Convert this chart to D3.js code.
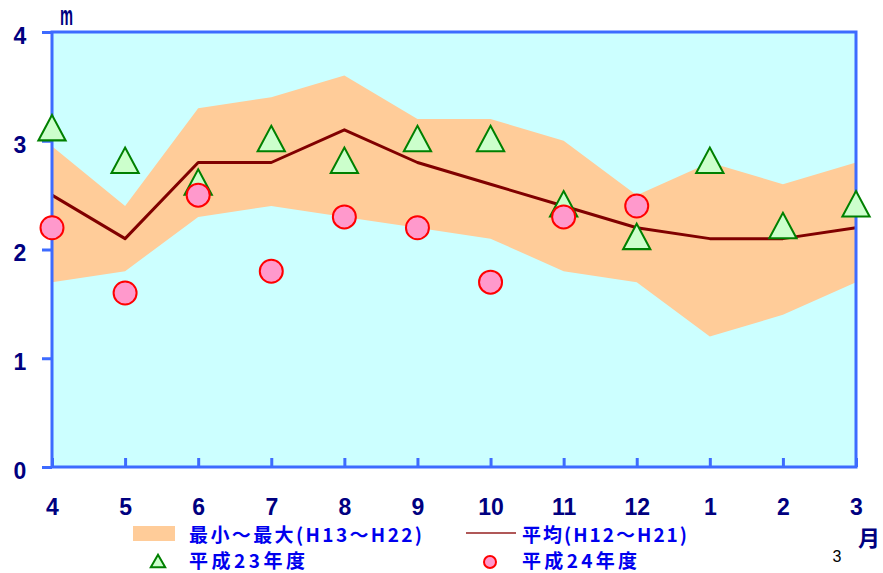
<!DOCTYPE html>
<html>
<head>
<meta charset="utf-8">
<script src="https://cdn.jsdelivr.net/npm/d3@7"></script>
<style>
  html, body { margin: 0; padding: 0; background: #ffffff; }
  svg { display: block; }
</style>
</head>
<body>
<script>
// Monthly values (m), April through March
const months = ["4", "5", "6", "7", "8", "9", "10", "11", "12", "1", "2", "3"];
const maxH13H22 = [2.95, 2.4, 3.3, 3.4, 3.6, 3.2, 3.2, 3.0, 2.5, 2.8, 2.6, 2.8];
const minH13H22 = [1.7, 1.8, 2.3, 2.4, 2.3, 2.2, 2.1, 1.8, 1.7, 1.2, 1.4, 1.7];
const avgH12H21 = [2.5, 2.1, 2.8, 2.8, 3.1, 2.8, 2.6, 2.4, 2.2, 2.1, 2.1, 2.2];
const fy23 = [3.1, 2.8, 2.6, 3.0, 2.8, 3.0, 3.0, 2.4, 2.1, 2.8, 2.2, 2.4];
const fy24 = [2.2, 1.6, 2.5, 1.8, 2.3, 2.2, 1.7, 2.3, 2.4, null, null, null];
const yTicks = [0, 1, 2, 3, 4];

const legendLabels = ["最小～最大(H13～H22)", "平均(H12～H21)", "平成23年度", "平成24年度"];

const W = 883, H = 573;
const plot = { left: 52, right: 856, top: 32, bottom: 467 };

const svg = d3.select("body").append("svg").attr("width", W).attr("height", H);

const x = d3.scalePoint().domain(months).range([plot.left, plot.right]);
const y = d3.scaleLinear().domain([0, 4]).range([plot.bottom, plot.top]);

const navy = "#000080";
const axisBlue = "#3d6bff";
const tickFont = "'Liberation Sans', Arial, sans-serif";
const cjkFont = "'Noto Sans CJK JP', 'Liberation Sans', sans-serif";

// plot background
svg.append("rect")
  .attr("x", plot.left).attr("y", plot.top)
  .attr("width", plot.right - plot.left).attr("height", plot.bottom - plot.top)
  .attr("fill", "#ccffff");

// min–max band
const band = months.map((m, i) => ({ m, lo: minH13H22[i], hi: maxH13H22[i] }));
svg.append("path")
  .datum(band)
  .attr("fill", "#ffcc99")
  .attr("d", d3.area().x(d => x(d.m)).y0(d => y(d.lo)).y1(d => y(d.hi)));

// average line
svg.append("path")
  .datum(months.map((m, i) => ({ m, v: avgH12H21[i] })))
  .attr("fill", "none")
  .attr("stroke", "#800000")
  .attr("stroke-width", 3)
  .attr("stroke-linejoin", "round")
  .attr("d", d3.line().x(d => x(d.m)).y(d => y(d.v)));

// frame
svg.append("rect")
  .attr("x", plot.left).attr("y", plot.top)
  .attr("width", plot.right - plot.left).attr("height", plot.bottom - plot.top)
  .attr("fill", "none").attr("stroke", axisBlue).attr("stroke-width", 3);

// y ticks (outward) and x ticks (inward)
const yAxis = d3.axisLeft(y).tickValues(yTicks).tickSize(10).tickFormat(d3.format("d"));
const gy = svg.append("g").attr("transform", `translate(${plot.left},0)`).call(yAxis);
gy.select(".domain").remove();
gy.selectAll(".tick line").attr("stroke", axisBlue).attr("stroke-width", 3);
gy.selectAll(".tick text")
  .attr("fill", navy).attr("font-family", tickFont).attr("font-weight", "bold")
  .attr("font-size", 23).attr("text-anchor", "middle").attr("x", -32).attr("dy", "0.49em");

const xAxis = d3.axisBottom(x).tickSize(-9).tickPadding(44);
const gx = svg.append("g").attr("transform", `translate(0,${plot.bottom})`).call(xAxis);
gx.select(".domain").remove();
gx.selectAll(".tick line").attr("stroke", axisBlue).attr("stroke-width", 3);
gx.selectAll(".tick text")
  .attr("fill", navy).attr("font-family", tickFont).attr("font-weight", "bold")
  .attr("font-size", 23).attr("dy", "0.18em");

// triangle symbols (FY23)
const tri = d3.symbol().type(d3.symbolTriangle).size(320);
svg.append("g").selectAll("path")
  .data(months.map((m, i) => ({ m, v: fy23[i] })).filter(d => d.v != null))
  .join("path")
  .attr("transform", d => `translate(${x(d.m)},${y(d.v) + 2}) scale(1,1.08)`)
  .attr("d", tri)
  .attr("fill", "#ccffcc").attr("stroke", "#008000").attr("stroke-width", 2);

// circle symbols (FY24)
svg.append("g").selectAll("circle")
  .data(months.map((m, i) => ({ m, v: fy24[i] })).filter(d => d.v != null))
  .join("circle")
  .attr("cx", d => x(d.m)).attr("cy", d => y(d.v)).attr("r", 11.5)
  .attr("fill", "#ff99cc").attr("stroke", "#ff0000").attr("stroke-width", 2);

// unit labels
svg.append("text").attr("transform", "translate(60,25) scale(1,1.25)")
  .attr("fill", navy).attr("font-family", tickFont).attr("font-weight", "bold")
  .attr("font-size", 22).attr("textLength", 13).attr("lengthAdjust", "spacingAndGlyphs")
  .text("m");
svg.append("text").attr("x", 869).attr("y", 546).attr("text-anchor", "middle")
  .attr("fill", navy).attr("font-family", cjkFont).attr("font-weight", "bold")
  .attr("font-size", 22).text("月");
svg.append("text").attr("x", 837).attr("y", 562).attr("text-anchor", "middle")
  .attr("fill", "#000000").attr("font-family", tickFont)
  .attr("font-size", 16).text("3");

// legend
const lg = svg.append("g");
const legendText = (tx, ty, s, len) => lg.append("text")
  .attr("x", tx).attr("y", ty)
  .attr("fill", "#0000ee").attr("font-family", cjkFont).attr("font-weight", "bold")
  .attr("font-size", 19).attr("textLength", len).attr("lengthAdjust", "spacing")
  .text(s);

lg.append("rect").attr("x", 133).attr("y", 526).attr("width", 42).attr("height", 15).attr("fill", "#ffcc99");
legendText(189, 542, legendLabels[0], 233);

lg.append("line").attr("x1", 466).attr("x2", 516).attr("y1", 533).attr("y2", 533)
  .attr("stroke", "#b05858").attr("stroke-width", 2);
legendText(522, 542, legendLabels[1], 165);

lg.append("path").attr("transform", "translate(158,563)")
  .attr("d", d3.symbol().type(d3.symbolTriangle).size(90))
  .attr("fill", "#ccffcc").attr("stroke", "#008000").attr("stroke-width", 2);
legendText(189, 568, legendLabels[2], 116);

lg.append("circle").attr("cx", 490).attr("cy", 562).attr("r", 6)
  .attr("fill", "#ff99cc").attr("stroke", "#ff0000").attr("stroke-width", 2);
legendText(522, 568, legendLabels[3], 115);
</script>
</body>
</html>
